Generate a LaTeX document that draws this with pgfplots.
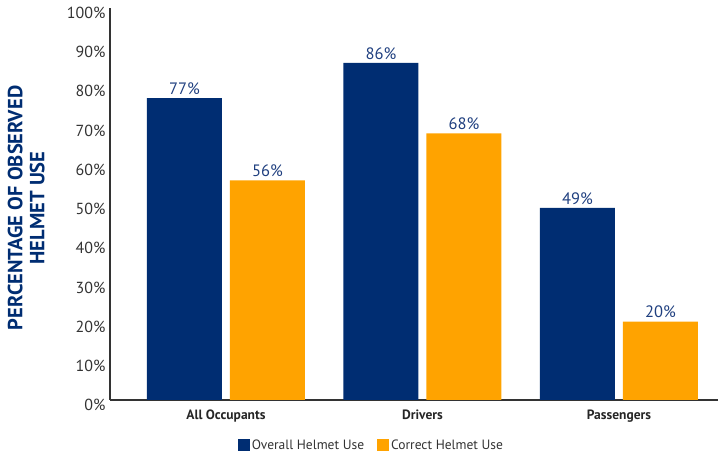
\documentclass[border=0pt]{standalone}
\usepackage{fontspec}
\setmainfont{PT Sans}
\usepackage{pgfplots}
\pgfplotsset{compat=1.18}
\definecolor{navybar}{HTML}{002D72}
\definecolor{orangebar}{HTML}{FFA300}
\definecolor{labnavy}{HTML}{1F3F7F}
\definecolor{axisgray}{HTML}{333333}
\begin{document}
\begin{tikzpicture}
\useasboundingbox (-110pt,-54pt) rectangle (611pt,400pt);
\begin{axis}[
    scale only axis,
    width=608pt, height=392pt,
    /pgf/number format/assume math mode=true,
    axis x line=bottom, axis y line=left,
    axis line style={-, axisgray, line width=1.3pt},
    ybar, bar width=75pt,
    xmin=-0.590, xmax=2.504,
    ymin=0, ymax=100,
    ytick={0,10,...,100},
    yticklabel={\pgfmathprintnumber{\tick}\%},
    yticklabel style={font=\fontsize{16}{18}\selectfont, text=axisgray, yshift=-5pt, xshift=-1pt},
    xtick={0,1,2},
    xticklabels={All Occupants, Drivers, Passengers},
    xticklabel style={font=\fontsize{13.5}{15}\selectfont\bfseries, text=black!85, yshift=-6pt},
    major tick length=0pt,
    ylabel={PERCENTAGE OF OBSERVED\\HELMET USE},
    ylabel style={at={(axis description cs:-0.138,0.49)}, anchor=center, align=center,
        font=\fontsize{20.5}{22}\selectfont\bfseries, text=navybar},
    nodes near coords={\pgfmathprintnumber{\pgfplotspointmeta}\%},
    every node near coord/.append style={font=\fontsize{16.5}{18}\selectfont, text=labnavy},
    legend style={at={(axis description cs:0.430,-0.115)}, anchor=center, draw=none,
        font=\fontsize{13.5}{15}\selectfont, text=axisgray, inner sep=0pt,
        nodes={inner xsep=2pt},
        /tikz/every even column/.append style={column sep=11pt}},
    legend columns=2,
    legend image code/.code={\fill[#1,draw=none] (0pt,-6pt) rectangle (12pt,6pt);},
    legend cell align=left,
]
\addplot[fill=navybar, draw=none, bar shift=-41.5pt] coordinates {(0,77) (1,86) (2,49)};
\addplot[fill=orangebar, draw=none, bar shift=41.5pt] coordinates {(0,56) (1,68) (2,20)};
\legend{Overall Helmet Use, Correct Helmet Use}
\end{axis}
\end{tikzpicture}
\end{document}
